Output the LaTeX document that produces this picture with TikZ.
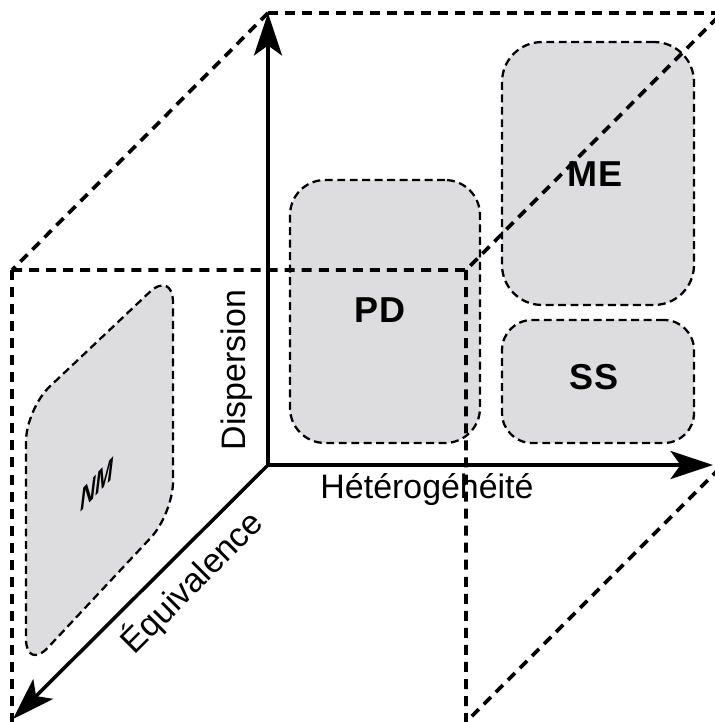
\documentclass[tikz,border=0pt]{standalone}
\usepackage{fontspec}
\setmainfont{Liberation Sans}
\usetikzlibrary{
  positioning,
  arrows.meta}
\definecolor{zonecolor}{RGB}{221,221,223}
\tikzset{
  %% zone : a grey region of the space
  zone/.style={
    fill=zonecolor,
    draw=black,
    line width=1.3pt,
    dash pattern=on 4.5pt off 2.6pt,
    rounded corners=0.7cm,
    inner sep=0pt
  },
  %% zonelabel : name of a region
  zonelabel/.style={
    font=\fontsize{20.5}{24}\selectfont\bfseries
  },
  %% axislabel : name of an axis
  axislabel/.style={
    font=\fontsize{19.3}{23}\selectfont
  },
  %% axisarrow : one of the three axes
  axisarrow/.style={
    line width=2pt,
    -{Stealth[length=0.85cm, width=0.56cm, inset=0.2cm]}
  },
  %% cubeedge : edge of the box around the space
  cubeedge/.style={line width=2.1pt, dash pattern=on 5.7pt off 4pt}
}

\begin{document}
\begin{tikzpicture}
  [x=0.02cm,
  y=-0.02cm]

  \useasboundingbox (0,0) rectangle (715,722);
  \clip (0,0) rectangle (715,722);

  %% Corners of the box
  \coordinate (ftl) at (12,270);
  \coordinate (ftr) at (466,270);
  \coordinate (fbl) at (12,730);
  \coordinate (fbr) at (466,722);
  \coordinate (btl) at (268,13);
  \coordinate (btr) at (722,13);
  \coordinate (bbr) at (722,466);

  %% Axes
  \coordinate (origin) at (268,465);
  \coordinate (disptip) at (268,13);
  \coordinate (hettip) at (713,465);
  \coordinate (equtip) at (13,719);

  %% Regions
  \node (pd) [zone, minimum width=3.8cm, minimum height=5.26cm] at (385,311.5) {};
  \node (me) [zone, minimum width=3.84cm, minimum height=5.26cm,
    rounded corners=0.8cm] at (598,173.5) {};
  \node (ss) [zone, minimum width=3.84cm, minimum height=2.46cm,
    rounded corners=0.6cm] at (598,381.5) {};
  \draw [zone, rounded corners=0.65cm] (173,400) -- (173,514) -- (26,671)
    -- (26,409) -- (173,270) -- cycle;

  \node (pdlabel) [zonelabel] at (380,310) {PD};
  \node (melabel) [zonelabel] at (595,174) {ME};
  \node (sslabel) [zonelabel] at (594,377) {SS};
  %% NM lies on the left face of the box
  \node (nmlabel) [font=\fontsize{17.5}{21}\selectfont\bfseries\itshape,
    cm={0.7,0.72,0,1,(0,0)}] at (97,485) {NM};

  %% Box around the space
  \draw [cubeedge] (btl) -- (btr);
  \draw [cubeedge] (btl) -- (ftl);
  \draw [cubeedge] (ftl) -- (ftr) -- (btr);
  \draw [cubeedge] (ftl) -- (fbl);
  \draw [cubeedge] (ftr) -- (fbr) -- (bbr);

  \draw [axisarrow] (origin) -- (disptip);
  \draw [axisarrow] (origin) -- (hettip);
  \draw [axisarrow] (origin) -- (equtip);

  \node (displabel) [axislabel, rotate=90, anchor=base] at (245,370) {Dispersion};
  \node (hetlabel) [axislabel, anchor=base] at (427,498) {Hétérogéhéité};
  \node (equlabel) [axislabel, rotate=45, anchor=base] at (200,590) {Équivalence};

\end{tikzpicture}
\end{document}
